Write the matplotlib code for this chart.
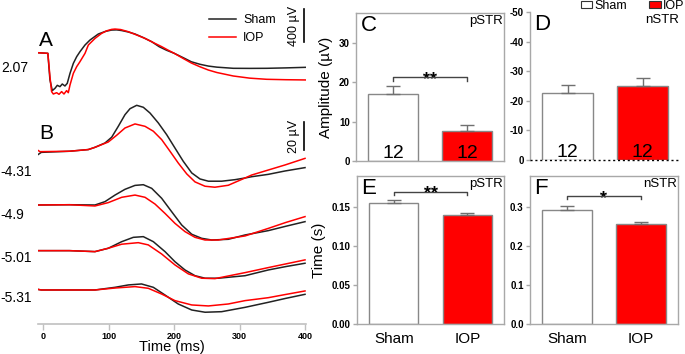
import matplotlib
matplotlib.use("Agg")
import matplotlib.pyplot as plt
from matplotlib.patches import Patch
import numpy as np

plt.rcParams['font.family'] = ['Liberation Sans', 'DejaVu Sans']

W, H = 685, 354

# ---------------- data ----------------
# A: flash ERG (uV)
a_sham_t = [-9, 7, 10.2, 13.8, 17.9, 21.4, 25.5, 29, 33.1, 36.6, 40.8, 45.9, 51, 56, 63.7, 71.3, 84, 95,
            104.4, 112, 119.6, 130, 140, 152, 165.5, 177, 188, 200, 214, 226, 239, 252, 265, 290, 315, 341, 370, 401]
a_sham_v = [0, -8, -330, -459, -431, -395, -411, -379, -403, -371, -250, -129, -48, 12, 93, 153, 226, 258,
            274, 276, 268, 250, 226, 185, 133, 72, 30, -8, -62, -110, -140, -162, -175, -189, -190, -189, -184, -177]
a_iop_t = [-9, 7, 10.2, 12.7, 15.3, 20.4, 24, 28, 31.6, 35.6, 38.2, 40.8, 45.9, 51, 56, 63.7, 68.8, 79,
           89.1, 97, 104.4, 109.5, 118, 129.8, 142, 155.3, 168, 180.7, 190, 200, 214, 226, 239, 252, 265, 290,
           315, 341, 370, 401]
a_iop_v = [0, -8, -290, -471, -500, -484, -504, -471, -500, -459, -484, -391, -250, -169, -109, -8, 93, 173,
           234, 265, 282, 286, 280, 254, 216, 173, 122, 73, 33, -8, -72, -125, -170, -210, -240, -282,
           -308, -322, -327, -330]

# B: STR traces (uV) at four intensities
intensities = ['-4.31', '-4.9', '-5.01', '-5.31']
b_sham = [
    ([-9, -3, 40, 68.7, 78.9, 94.2, 104.4, 114.5, 124.7, 132.4, 142.6, 152.7, 162.9, 175.6, 188.4, 201,
      213.7, 226.6, 239.2, 252, 272.3, 292.7, 308, 318, 343.5, 369, 399.5],
     [-2.4, -0.5, 0.3, 1.5, 3.1, 6.2, 10.3, 18.1, 26.4, 30.7, 33.1, 31.7, 27.6, 20.5, 12.1, 2.6,
      -6.9, -15.2, -19.5, -21.1, -21.1, -20, -18.8, -17.9, -16.2, -13.8, -11.4]),
    ([-9, 40, 78.9, 94.2, 109.5, 124.7, 140, 152.7, 165.5, 180.7, 196, 211.3, 226.6, 241.8, 257, 282.4,
      308, 343.5, 370, 399.5],
     [0, 0.2, 0, 2.4, 7.1, 11.2, 14, 14.5, 11.9, 4.8, -4.8, -14.3, -20.9, -23.8, -25, -24.5,
      -21.4, -18.3, -15.2, -11.9]),
    ([-9, 40, 78.9, 99.2, 119.7, 137.4, 152.7, 168, 185.8, 201, 216.3, 231.6, 246.9, 267.2, 308, 343.5,
      370, 399.5],
     [0, 0, -0.7, 1.7, 6.4, 9.5, 10, 6.4, -0.7, -7.9, -13.8, -17.9, -19.7, -19.7, -17.9, -13.8,
      -11.4, -9]),
    ([-9, -3, 40, 78.9, 109.5, 129.8, 150, 168, 185.8, 206, 226.6, 246.9, 272.3, 308, 343.5, 370, 399.5],
     [0.5, 0, 0, 0, 1.9, 3.6, 4.3, 1.9, -3.6, -10, -14.3, -15.9, -15.5, -12.4, -8.8, -6, -3.1]),
]
b_iop = [
    ([-9, -5, 40, 68.7, 78.9, 99.2, 112, 124.7, 140, 155.3, 168, 180.7, 193.4, 206, 219, 231.6, 246.9,
      262, 282.4, 308, 318, 343.5, 369, 399.5],
     [1.2, 0, 0.3, 1.5, 3.1, 6.9, 11.7, 16.9, 19.8, 18.1, 14.6, 8.6, 0.3, -8.1, -15.9, -21.6, -24.7,
      -25.4, -24, -18.8, -16.7, -13.1, -9.5, -4.8]),
    ([-9, 40, 78.9, 99.2, 119.7, 140, 155.3, 170.5, 185.8, 201, 216.3, 231.6, 246.9, 267.2, 308, 343.5,
      370, 399.5],
     [0, 0.2, -0.7, 1.7, 5.5, 7.1, 5.5, 0.7, -6, -13.1, -19, -23.1, -25, -25, -22.1, -16.7, -12.5, -8.3]),
    ([-9, 40, 78.9, 99.2, 119.7, 145, 160.3, 180.7, 201, 221.4, 241.8, 262, 308, 343.5, 370, 399.5],
     [0, 0, -0.7, 1.7, 4.6, 5.7, 4.1, -2.4, -10.2, -16.6, -19.7, -20, -15.7, -12.1, -9.5, -6.6]),
    ([-9, -3, 40, 78.9, 109.5, 140, 160.3, 180.7, 201, 226.6, 252, 282.4, 308, 343.5, 370, 399.5],
     [0.5, 0, 0, 0, 1.4, 2.4, 1.2, -2.9, -7.6, -10.7, -11.4, -10, -7.6, -5.5, -3.2, -0.7]),
]

groups = ['Sham', 'IOP']
amp_pstr = [17.0, 7.7]
amp_pstr_err = [2.0, 1.5]
amp_nstr = [-22.5, -25.0]
amp_nstr_err = [3.0, 2.7]
t_pstr = [0.155, 0.140]
t_pstr_err = [0.004, 0.002]
t_nstr = [0.292, 0.256]
t_nstr_err = [0.010, 0.006]
n_animals = [12, 12]

# ---------------- styling ----------------
SHAM_C = '#222222'
IOP_C = '#ff0000'
SPINE_C = '#a8a8a8'

fig = plt.figure(figsize=(W / 100, H / 100), dpi=100)


def px_axes(x0, y0, x1, y1):
    return fig.add_axes([x0 / W, 1 - y1 / H, (x1 - x0) / W, (y1 - y0) / H])


XL = (-8.5, 401)
AX_L, AX_R = 37.7, 306

# ---- A axes ----
axA = px_axes(AX_L, 5, AX_R, 95)
axA.plot(a_sham_t, a_sham_v, color=SHAM_C, lw=1.1, label='Sham')
axA.plot(a_iop_t, a_iop_v, color=IOP_C, lw=1.1, label='IOP')
axA.set_xlim(*XL)
axA.set_ylim(-512, 577)
axA.axis('off')
scaleA = 400
axA.plot([398, 398], [529 - scaleA, 529], color='k', lw=1.2, clip_on=False)
axA.text(383, 529 - scaleA / 2, '400 µV', rotation=90, ha='center', va='center', fontsize=9)
axA.legend(loc='upper left', bbox_to_anchor=(203 / W, 1 - 8 / H), bbox_transform=fig.transFigure,
           frameon=False, fontsize=9, handlelength=2.1, handletextpad=0.6, labelspacing=0.45, borderpad=0)

# ---- B axes ----
axB = px_axes(AX_L, 95, AX_R, 324)
offsets = [123.1, 85.0, 52.4, 24.3]
for (st, sv), (it, iv), off in zip(b_sham, b_iop, offsets):
    axB.plot(st, np.array(sv) + off, color=SHAM_C, lw=1.1)
    axB.plot(it, np.array(iv) + off, color=IOP_C, lw=1.1)
axB.set_xlim(*XL)
axB.set_ylim(0, 229 / 1.4)
for s in ['left', 'right', 'top']:
    axB.spines[s].set_visible(False)
axB.spines['bottom'].set_color('#c0c0c0')
axB.spines['bottom'].set_linewidth(1.2)
axB.set_yticks([])
axB.set_xticks([0, 100, 200, 300, 400])
axB.tick_params(axis='x', colors='#c0c0c0', labelcolor='k', labelsize=6.5, length=4, width=1, pad=2)
for lab in axB.get_xticklabels():
    lab.set_fontweight('bold')
axB.set_xlabel('Time (ms)', fontsize=10.5, labelpad=-1)
scaleB = 20
axB.plot([398, 398], [144.3 - scaleB, 144.3], color='k', lw=1.2, clip_on=False)
axB.text(383, 144.3 - scaleB / 2, '20 µV', rotation=90, ha='center', va='center', fontsize=9)

fig.text(39 / W, 1 - 40 / H, 'A', fontsize=15, va='center', ha='left')
fig.text(39 / W, 1 - 134 / H, 'B', fontsize=15, va='center', ha='left')
fig.text(1 / W, 1 - 68 / H, '2.07', fontsize=10, va='center', ha='left')
for lab, yy in zip(intensities, [172, 215, 258, 298]):
    fig.text(0 / W, 1 - yy / H, lab, fontsize=10, va='center', ha='left')

# ---- bar panels ----
xpos = np.arange(len(groups))
colors = ['white', IOP_C]


def bar_panel(ax, vals, errs, ylim, yticks, yticklabels, letter, tag, inverted=False, box=True):
    ax.bar(xpos, vals, width=0.67, color=colors, edgecolor='#888888', linewidth=1.0, zorder=2)
    if inverted:
        yerr = [errs, [0, 0]]
    else:
        yerr = [[0, 0], errs]
    ax.errorbar(xpos, vals, yerr=yerr, fmt='none', ecolor='#707070', elinewidth=1.0, capsize=5, capthick=1.0, zorder=3)
    ax.set_xlim(-0.5, 1.5)
    ax.set_ylim(*ylim)
    ax.set_yticks(yticks)
    ax.set_yticklabels(yticklabels)
    ax.tick_params(axis='y', colors=SPINE_C, labelcolor='k', labelsize=7, length=3, width=1, pad=1.5)
    for lab in ax.get_yticklabels():
        lab.set_fontweight('bold')
    for s in ax.spines.values():
        s.set_color(SPINE_C)
        s.set_linewidth(1.0)
    if not box:
        for s in ['top', 'right', 'bottom']:
            ax.spines[s].set_visible(False)
    ax.text(0.03, 0.985, letter, transform=ax.transAxes, fontsize=16, va='top', ha='left')
    ax.text(0.995, 0.985, tag, transform=ax.transAxes, fontsize=9.5, va='top', ha='right')


def bracket(ax, y, d, label):
    ax.plot([0, 0, 1, 1], [y - d, y, y, y - d], color='#444444', lw=1.0, zorder=4)
    ax.annotate(label, (0.5, y), xytext=(0, -5), textcoords='offset points',
                ha='center', va='baseline', fontsize=13, fontweight='bold')


axC = px_axes(356, 13, 504, 161)
bar_panel(axC, amp_pstr, amp_pstr_err, (0, 37.7), [0, 10, 20, 30], ['0', '10', '20', '30'], 'C', 'pSTR')
axC.set_xticks([])
axC.set_ylabel('Amplitude (µV)', fontsize=11, labelpad=4)
bracket(axC, 21.3, 0.8, '**')
for x, n in zip(xpos, n_animals):
    axC.text(x, 0.76, str(n), ha='center', va='baseline', fontsize=14)

axD = px_axes(530, 12, 680, 160)
bar_panel(axD, amp_nstr, amp_nstr_err, (0, -50), [0, -10, -20, -30, -40, -50],
          ['0', '-10', '-20', '-30', '-40', '-50'], 'D', 'nSTR', inverted=True, box=False)
axD.axhline(0, color='k', ls=(0, (1.5, 2)), lw=1.0, zorder=5, clip_on=False)
axD.set_xticks([])
for x, n in zip(xpos, n_animals):
    axD.text(x, -0.9, str(n), ha='center', va='baseline', fontsize=14)

axE = px_axes(357, 176, 504, 324)
bar_panel(axE, t_pstr, t_pstr_err, (0, 0.19), [0, 0.05, 0.10, 0.15], ['0.00', '0.05', '0.10', '0.15'], 'E', 'pSTR')
axE.set_xticks(xpos)
axE.set_xticklabels(groups)
axE.tick_params(axis='x', length=0, labelsize=11, pad=6)
axE.set_ylabel('Time (s)', fontsize=11, labelpad=4)
bracket(axE, 0.170, 0.004, '**')

axF = px_axes(530, 176, 678, 324)
bar_panel(axF, t_nstr, t_nstr_err, (0, 0.38), [0, 0.1, 0.2, 0.3], ['0.0', '0.1', '0.2', '0.3'], 'F', 'nSTR')
axF.set_xticks(xpos)
axF.set_xticklabels(groups)
axF.tick_params(axis='x', length=0, labelsize=11, pad=6)
bracket(axF, 0.328, 0.008, '*')

# top legend
handles = [Patch(facecolor='white', edgecolor='#333333', linewidth=0.8, label='Sham'),
           Patch(facecolor=IOP_C, edgecolor='#333333', linewidth=0.8, label='IOP')]
fig.legend(handles=handles, loc='upper left', bbox_to_anchor=(581 / W, 1.0), ncol=2, frameon=False,
           fontsize=9, handlelength=0.9, handleheight=0.55, handletextpad=0.15, columnspacing=1.8,
           borderpad=0.0, borderaxespad=0.0)

fig.savefig('out.png', dpi=100)
